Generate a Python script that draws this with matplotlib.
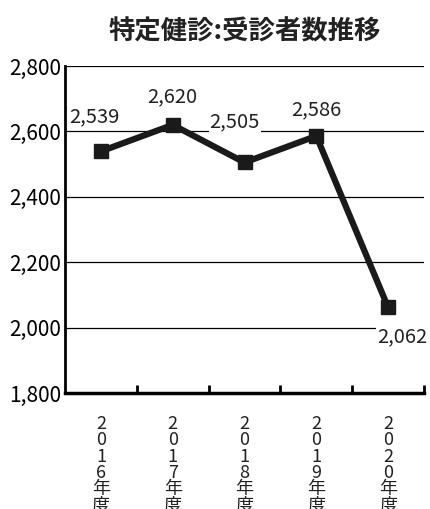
import matplotlib.pyplot as plt
import matplotlib.transforms as mtransforms

plt.rcParams['font.family'] = ['Noto Sans CJK JP', 'DejaVu Sans']

# data
years = ['2016', '2017', '2018', '2019', '2020']
counts = [2539, 2620, 2505, 2586, 2062]
label_offsets = [(-5, 25), (0, 20), (-7, 29), (0, 19), (10, -21)]

fig = plt.figure(figsize=(4.3, 5.09), dpi=100)
ax = fig.add_axes([65 / 430, 1 - 393 / 509, 359 / 430, 327 / 509])

x = list(range(len(years)))
ax.plot(x, counts, color='#1a1a1a', lw=4.5, marker='s', ms=10, zorder=3)

for xi, v, off in zip(x, counts, label_offsets):
    ax.annotate(f'{v:,}', (xi, v), xytext=off, textcoords='offset points',
                ha='center', va='center', fontsize=14.5, color='#222',
                bbox=dict(boxstyle='square,pad=0.05', fc='white', ec='none'),
                zorder=4, annotation_clip=False)

ax.set_xlim(-0.5, 4.5)
ax.set_ylim(1800, 2800)
ax.set_yticks(range(1800, 2801, 200))
ax.set_yticklabels([f'{t:,}' for t in range(1800, 2801, 200)], fontsize=15)
ax.yaxis.grid(True, color='black', lw=0.9)
ax.set_axisbelow(True)

# x ticks between categories, labels stacked vertically one char at a time
ax.set_xticks([i + 0.5 for i in range(5)])
ax.set_xticklabels([])
ax.tick_params(axis='x', direction='in', length=6, width=2)
ax.tick_params(axis='y', length=0, pad=3)
trans = mtransforms.blended_transform_factory(ax.transData, fig.dpi_scale_trans)
for xi, y in zip(x, years):
    for k, ch in enumerate(y + '年度'):
        py = 424 + k * 16.3
        ax.text(xi, (509 - py) / 100, ch, transform=trans, ha='center',
                va='center', fontsize=13, color='#222', clip_on=False)

for s in ['top', 'right']:
    ax.spines[s].set_visible(False)
ax.spines['left'].set_linewidth(2)
ax.spines['bottom'].set_linewidth(2.5)

fig.text(245 / 430, 1 - 32 / 509, '特定健診:受診者数推移', ha='center', va='center',
         fontsize=19, fontweight='bold', color='#222')

fig.savefig('out.png', dpi=100)
